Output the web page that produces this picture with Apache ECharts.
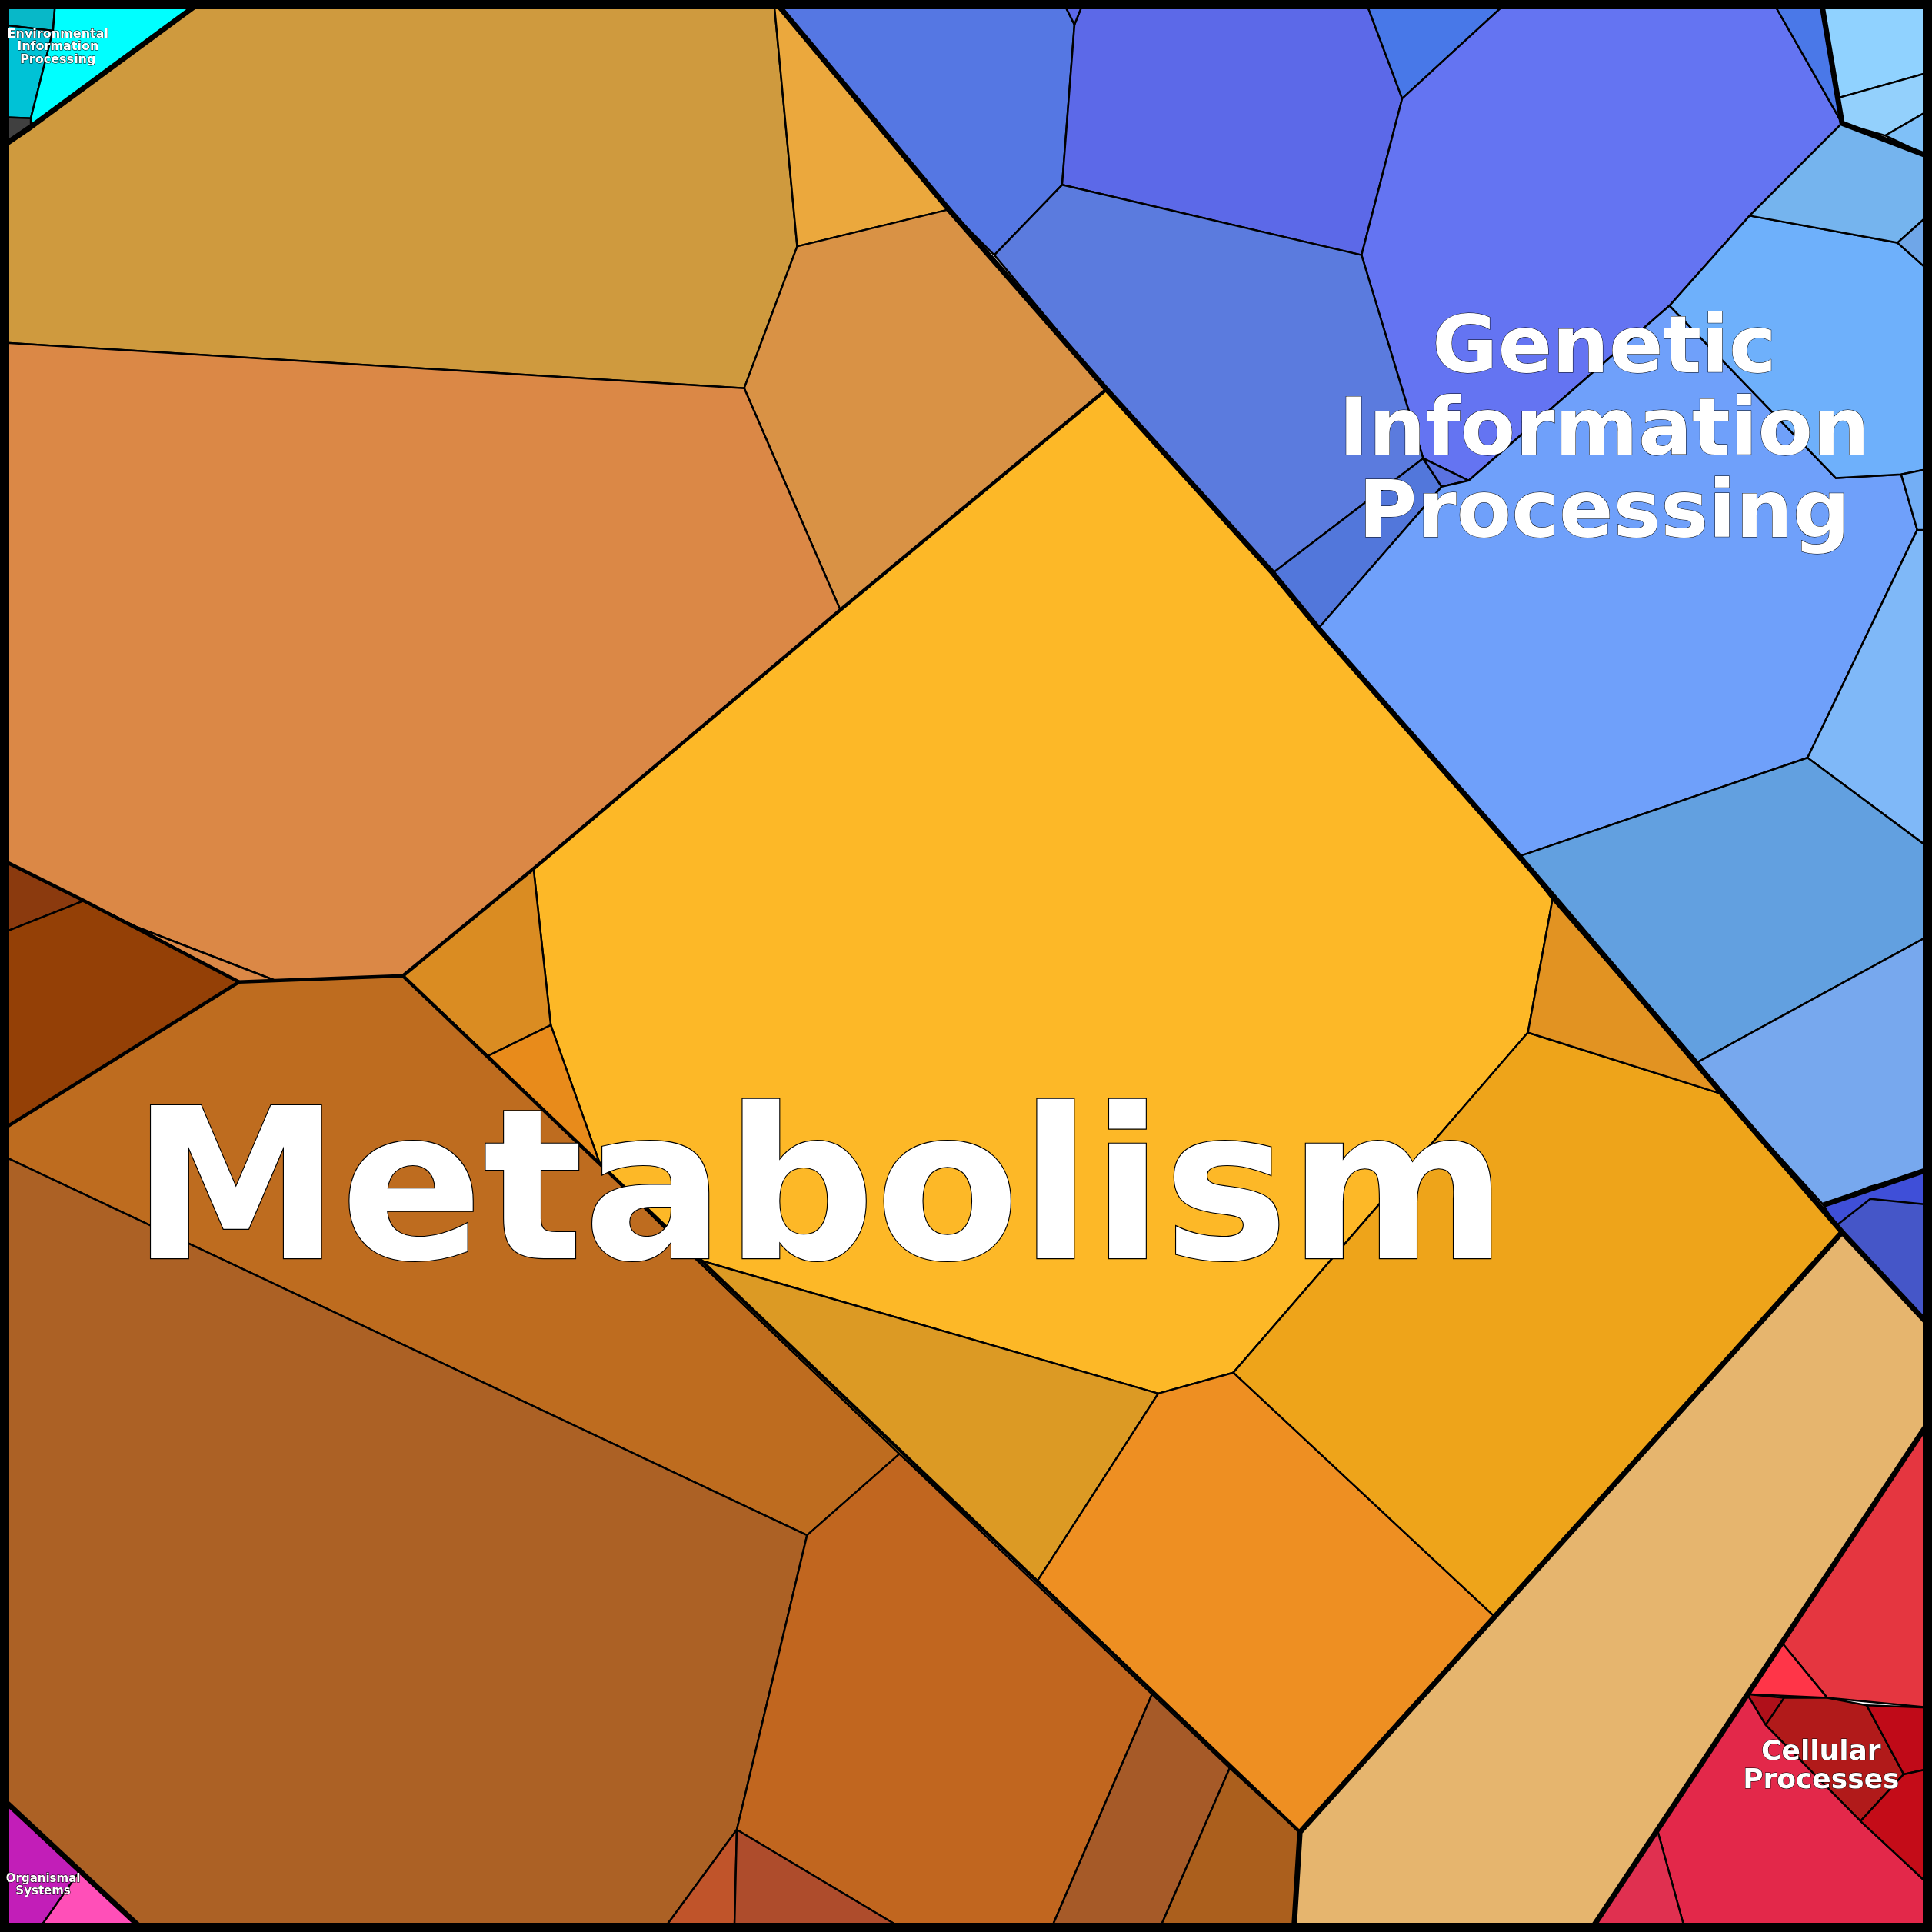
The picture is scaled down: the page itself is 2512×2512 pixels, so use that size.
<!DOCTYPE html>
<html><head><meta charset="utf-8">
<script src="https://cdn.jsdelivr.net/npm/echarts@6/dist/echarts.min.js"></script>
<style>html,body{margin:0;padding:0;background:#fff}#c{width:2512px;height:2512px}</style>
</head><body><div id="c"></div>
<script>
// Voronoi treemap cells (vertices in a 0..1568 coordinate space, y downwards)
const cellNames = ['A','B','C','D','E','F','D2','G','H','I','J','K','L','M','N','O','P','Q','R','S','T',
 'U','V','V2','W','X','Y','Z','Z2','AA','AB','AC','AD','AE','AF','AG','AH','AI','AJ','AK','AK2','AL','AM',
 'BB','CA','CB','CC','CD','CE','CF','CG','CH','EA','EB','EC','ED','OA','OB'];
const cellColors = ['#CF9A3E','#EBA83D','#D99245','#DB8846','#8B3A0E','#944006','#DB8846','#FDB827','#DA8C22','#E88B1B','#BE6C1F','#AC6125','#C1661F','#C0542A','#AE4C2C','#A65A28','#AB5F1D','#DC9A24','#EE8F22','#EEA41A','#E29322',
 '#5577E3','#5C69E8','#5C69E8','#4878E8','#6474F2','#5B7BDE','#5277DB','#5A72E0','#6FA0FA','#6EB0FB','#75B4EE','#6FA6E8','#90D2FF','#93D0FC','#7FC0F8','#7FB8F8','#62A0E0','#77A8EE','#4556C8','#3F4FD8','#73AEF5','#4A78E8',
 '#E6B56E','#E53640','#FF3548','#B0101A','#B11A1A','#E3284A','#E03050','#C00A18','#C40C18','#08B8C8','#00C2D6','#00FFFF','#404040','#C21EB8','#FF4FB8'];
const cellPoints = [
 [[0,0],[628,0],[647,200],[604,315],[0,278]],
 [[628,0],[770,170],[647,200]],
 [[647,200],[770,170],[898,316],[682,495],[604,315]],
 [[0,278],[604,315],[682,495],[433,705],[327,792],[224,796],[110,752],[68,731],[0,697]],
 [[0,697],[68,731],[0,758]],
 [[0,758],[68,731],[110,752],[194,797],[0,918]],
 [[110,752],[224,796],[194,797]],
 [[682,495],[898,316],[1033,465],[1070,510],[1233,695],[1260,730],[1240,838],[1001,1114],[940,1131],[565,1022],[487,945],[447,832],[433,705]],
 [[433,705],[447,832],[396,857],[327,792]],
 [[396,857],[447,832],[487,945]],
 [[194,797],[327,792],[396,857],[487,945],[565,1022],[730,1180],[655,1246],[0,937],[0,918]],
 [[0,937],[655,1246],[598,1485],[537,1568],[118,1568],[0,1458]],
 [[655,1246],[730,1180],[935,1375],[852,1568],[737,1568],[598,1485]],
 [[598,1485],[596,1568],[537,1568]],
 [[598,1485],[737,1568],[596,1568]],
 [[935,1375],[998,1435],[940,1568],[852,1568]],
 [[998,1435],[1055,1487],[1050,1568],[940,1568]],
 [[565,1022],[940,1131],[842,1283],[730,1180]],
 [[940,1131],[1001,1114],[1213,1312],[1055,1487],[842,1283]],
 [[1001,1114],[1240,838],[1398,888],[1495,1000],[1213,1312]],
 [[1260,730],[1398,888],[1240,838]],
 [[628,0],[862,0],[872,20],[862,150],[807,207],[770,170]],
 [[872,20],[880,0],[1108,0],[1138,80],[1105,207],[862,150]],
 [[862,0],[880,0],[872,20]],
 [[1108,0],[1225,0],[1138,80]],
 [[1138,80],[1225,0],[1438,0],[1495,100],[1420,175],[1355,248],[1192,390],[1155,372],[1105,207]],
 [[807,207],[862,150],[1105,207],[1155,372],[1033,465],[898,316]],
 [[1033,465],[1155,372],[1170,395],[1070,510]],
 [[1155,372],[1192,390],[1170,395]],
 [[1070,510],[1170,395],[1192,390],[1355,248],[1490,388],[1543,385],[1556,430],[1467,615],[1233,695]],
 [[1355,248],[1420,175],[1540,197],[1568,222],[1568,380],[1543,385],[1490,388]],
 [[1420,175],[1495,100],[1568,128],[1568,172],[1540,197]],
 [[1540,197],[1568,172],[1568,222]],
 [[1478,0],[1568,0],[1568,58],[1490,80]],
 [[1490,80],[1568,58],[1568,88],[1530,110],[1495,100]],
 [[1530,110],[1568,88],[1568,128]],
 [[1467,615],[1556,430],[1568,430],[1568,690]],
 [[1233,695],[1467,615],[1568,690],[1568,758],[1378,862]],
 [[1378,862],[1568,758],[1568,948],[1480,978],[1398,888]],
 [[1480,978],[1568,948],[1568,1078],[1495,1000]],
 [[1480,978],[1518,963],[1568,950],[1568,978],[1518,973],[1490,995]],
 [[1543,385],[1568,380],[1568,430],[1556,430]],
 [[1438,0],[1478,0],[1495,100]],
 [[1050,1568],[1055,1487],[1495,1000],[1568,1078],[1568,1150],[1290,1568]],
 [[1568,1150],[1568,1386],[1483,1378],[1446,1333]],
 [[1446,1333],[1483,1378],[1418,1375]],
 [[1418,1375],[1448,1378],[1433,1400]],
 [[1433,1400],[1448,1378],[1483,1378],[1515,1384],[1545,1440],[1510,1478]],
 [[1418,1375],[1433,1400],[1510,1478],[1568,1532],[1568,1568],[1368,1568],[1345,1485]],
 [[1345,1485],[1368,1568],[1290,1568]],
 [[1515,1384],[1568,1386],[1568,1435],[1545,1440]],
 [[1545,1440],[1568,1435],[1568,1532],[1510,1478]],
 [[0,0],[45,0],[43,25],[0,20]],
 [[0,20],[43,25],[25,96],[0,95]],
 [[45,0],[165,0],[25,103],[25,96],[43,25]],
 [[0,95],[25,96],[25,103],[0,120]],
 [[0,1458],[65,1518],[30,1568],[0,1568]],
 [[65,1518],[118,1568],[30,1568]]
];
// Thick group / subgroup boundaries
const borderLines = [
 [[628,0],[770,170],[898,316],[1033,465],[1070,510],[1233,695],[1398,888],[1495,1000],[1055,1487],[1050,1568]],
 [[1495,1000],[1568,1078]],
 [[1480,978],[1568,948]],
 [[1568,1150],[1290,1568]],
 [[165,0],[25,103],[0,120]],
 [[0,1458],[118,1568]],
 [[1495,100],[1568,128]],
 [[1478,0],[1495,100]]
];
const subLines = [
 [[0,918],[194,797],[327,792],[433,705],[682,495],[898,316]],
 [[327,792],[1055,1487]],
 [[0,697],[68,731],[194,797]]
];
const labelNames = ['Metabolism','Genetic\nInformation\nProcessing','Cellular\nProcesses','Environmental\nInformation\nProcessing','Organismal\nSystems'];
const labelPos = [[665,977],[1302,352],[1478,1434],[47,38],[35,1530]];
const labelSizes = [273,104,36,16,15];

const chart = echarts.init(document.getElementById('c'));
function poly(params, api, pts, style) {
  return {type:'polygon', shape:{points: pts.map(p=>api.coord(p))}, style};
}
chart.setOption({
  animation:false,
  grid:{left:0,right:0,top:0,bottom:0},
  xAxis:{type:'value',min:0,max:1568,show:false},
  yAxis:{type:'value',min:0,max:1568,inverse:true,show:false},
  series:[
   {type:'custom', data: cellNames.map((n,i)=>[i]), renderItem:(p,api)=>{
      const i=api.value(0);
      return poly(p,api,cellPoints[i],{fill:cellColors[i],stroke:'#000',lineWidth:2.5,lineJoin:'round'});
   }},
   {type:'custom', data: subLines.map((n,i)=>[i]), renderItem:(p,api)=>{
      return {type:'polyline',shape:{points:subLines[api.value(0)].map(q=>api.coord(q))},style:{stroke:'#000',lineWidth:4.5,fill:null}};
   }},
   {type:'custom', data: borderLines.map((n,i)=>[i]), renderItem:(p,api)=>{
      return {type:'polyline',shape:{points:borderLines[api.value(0)].map(q=>api.coord(q))},style:{stroke:'#000',lineWidth:7,fill:null,lineJoin:'round'}};
   }},
   {type:'custom', data: [[0]], renderItem:(p,api)=>{
      const a=api.coord([0,0]), b=api.coord([1568,1568]);
      return {type:'rect',shape:{x:a[0]+6,y:a[1]+6,width:b[0]-a[0]-12,height:b[1]-a[1]-12},style:{fill:null,stroke:'#000',lineWidth:12}};
   }, z:5},
   {type:'custom', data: labelNames.map((n,i)=>[i]), z:10, renderItem:(p,api)=>{
      const i=api.value(0); const c=api.coord(labelPos[i]); const fs=labelSizes[i];
      return {type:'text', x:c[0], y:c[1], style:{text:labelNames[i], fill:'#fff', stroke:'#000', lineWidth:Math.max(1,fs/120),
        font:'bold '+fs+'px "DejaVu Sans"', align:'center', verticalAlign:'middle', lineHeight:fs*1.03}};
   }}
  ]
});
</script></body></html>
